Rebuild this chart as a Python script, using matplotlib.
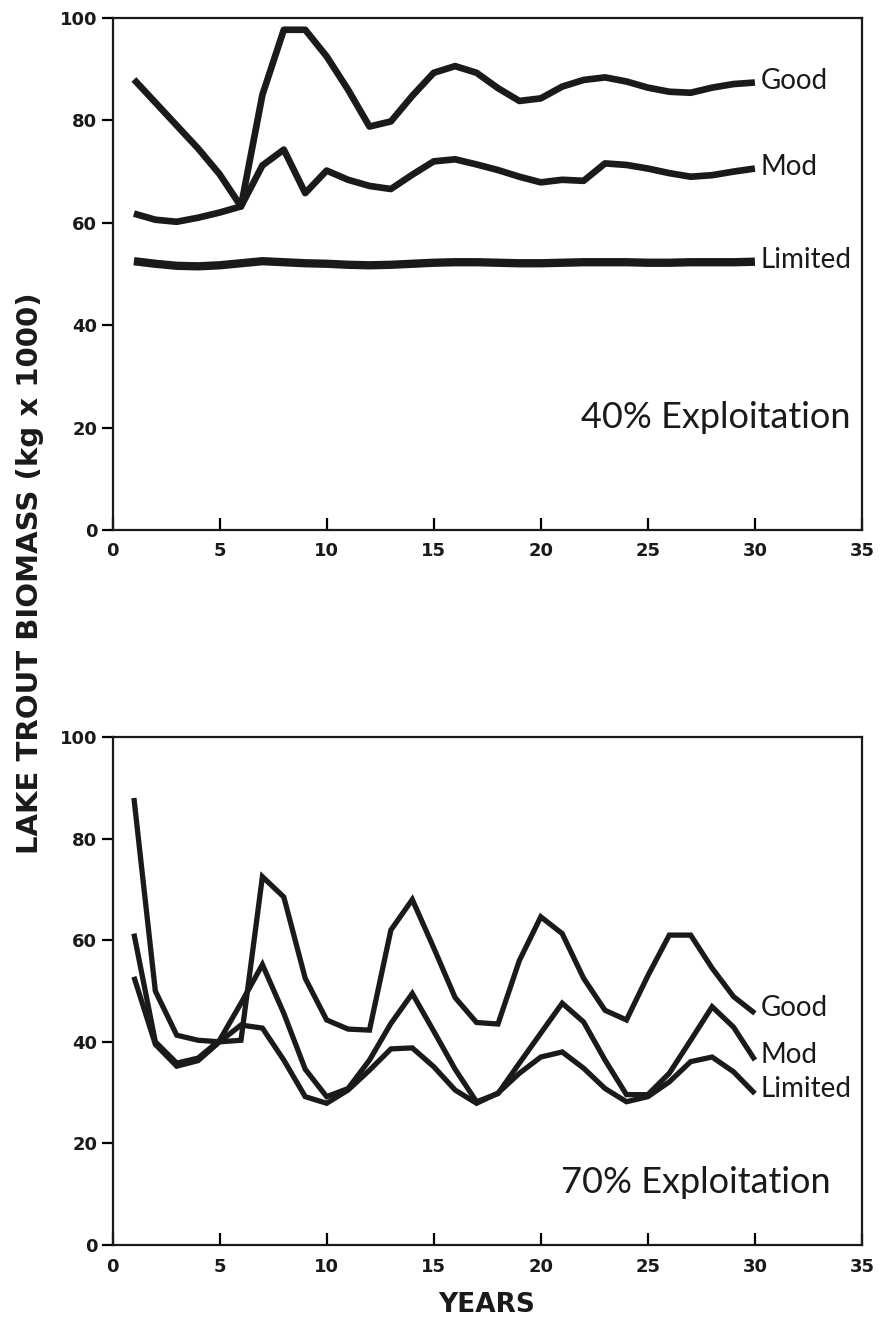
import matplotlib
matplotlib.use("Agg")
import matplotlib.pyplot as plt

years = list(range(1, 31))

good_40 = [88, 83.5, 79, 74.5, 69.5, 63.2, 85, 97.7, 97.7, 92.5, 86, 78.8, 79.8, 84.8, 89.3,
           90.6, 89.3, 86.3, 83.8, 84.3, 86.6, 87.9, 88.4, 87.6, 86.4, 85.6, 85.4, 86.4, 87.1, 87.4]
mod_40 = [61.8, 60.6, 60.2, 61.0, 62.0, 63.2, 71.2, 74.3, 65.8, 70.2, 68.4, 67.2, 66.6, 69.4, 72.0,
          72.4, 71.4, 70.3, 69.0, 67.9, 68.4, 68.2, 71.6, 71.3, 70.6, 69.7, 69.0, 69.3, 70.0, 70.6]
limited_40 = [52.5, 52.0, 51.6, 51.5, 51.7, 52.1, 52.5, 52.3, 52.1, 52.0, 51.8, 51.7, 51.8, 52.0, 52.2,
              52.3, 52.3, 52.2, 52.1, 52.1, 52.2, 52.3, 52.3, 52.3, 52.2, 52.2, 52.3, 52.3, 52.3, 52.4]

good_70 = [88, 50, 41.3, 40.3, 40, 40.3, 72.5, 68.5, 52.5, 44.3, 42.5, 42.3, 62, 68, 58.5,
           48.7, 43.8, 43.5, 56, 64.6, 61.3, 52.5, 46.2, 44.3, 53, 61, 61, 54.5, 48.9, 45.6]
mod_70 = [61.3, 40, 35.8, 36.8, 40.3, 47.6, 55.2, 45.6, 34.6, 29.2, 30.8, 36.4, 43.6, 49.5, 42.1,
          34.6, 28.2, 29.8, 35.8, 41.7, 47.6, 43.9, 36.4, 29.6, 29.6, 33.8, 40.3, 46.9, 42.9, 36.4]
limited_70 = [52.8, 39.5, 35.2, 36.3, 40, 43.3, 42.7, 36.4, 29.2, 27.9, 30.5, 34.4, 38.6, 38.8, 35.1,
              30.5, 27.9, 29.9, 33.8, 37, 38, 34.8, 30.8, 28.2, 29.2, 32.1, 36.1, 37, 34.1, 29.8]

series_names = ["Good", "Mod", "Limited"]
panel_titles = ["40% Exploitation", "70% Exploitation"]
x_ticks = [0, 5, 10, 15, 20, 25, 30, 35]
y_ticks = [0, 20, 40, 60, 80, 100]

W, H = 882, 1327
fig = plt.figure(figsize=(W / 100, H / 100), dpi=100)

def axes_rect(left_px, top_px, right_px, bottom_px):
    return [left_px / W, 1 - bottom_px / H, (right_px - left_px) / W, (bottom_px - top_px) / H]

ax1 = fig.add_axes(axes_rect(112.5, 18, 862, 530))
ax2 = fig.add_axes(axes_rect(112.5, 737, 862, 1245))

label_font = ["Lato", "DejaVu Sans"]
tick_font = ["DejaVu Sans"]

def style(ax):
    ax.set_xlim(0, 35)
    ax.set_ylim(0, 100)
    ax.set_xticks(x_ticks)
    ax.set_yticks(y_ticks)
    for s in ax.spines.values():
        s.set_linewidth(1.6)
        s.set_color("#1a1a1a")
    ax.tick_params(axis="x", direction="in", length=9, width=1.6, pad=9, labelsize=13)
    ax.tick_params(axis="y", direction="out", length=8, width=1.6, pad=3, labelsize=13)
    for lab in ax.get_xticklabels() + ax.get_yticklabels():
        lab.set_family(tick_font)
        lab.set_fontweight("bold")
        lab.set_color("#1a1a1a")

# top panel
data_top = [good_40, mod_40, limited_40]
lws_top = [4.8, 4.8, 6.0]
for vals, lw in zip(data_top, lws_top):
    ax1.plot(years, vals, color="#1a1a1a", lw=lw, solid_joinstyle="round", solid_capstyle="butt")
for name, vals in zip(series_names, data_top):
    ax1.text(30.25, vals[-1] + 0.3, name, ha="left", va="center", fontsize=20,
             family=label_font, color="#1a1a1a")
ax1.text(34.45, 22.0, panel_titles[0], ha="right", va="center", fontsize=26,
         family=label_font, color="#1a1a1a")
style(ax1)

# bottom panel
data_bot = [good_70, mod_70, limited_70]
for vals in data_bot:
    ax2.plot(years, vals, color="#1a1a1a", lw=3.8, solid_joinstyle="miter", solid_capstyle="butt")
for name, vals in zip(series_names, data_bot):
    ax2.text(30.25, vals[-1] + 1.0, name, ha="left", va="center", fontsize=20,
             family=label_font, color="#1a1a1a")
ax2.text(33.55, 12.4, panel_titles[1], ha="right", va="center", fontsize=26,
         family=label_font, color="#1a1a1a")
style(ax2)

fig.text(30 / W, 1 - 573 / H, "LAKE TROUT BIOMASS (kg x 1000)", rotation=90,
         ha="center", va="center", fontsize=21, fontweight="bold",
         family="DejaVu Sans", color="#1a1a1a")
fig.text(487 / W, 1 - 1305 / H, "YEARS", ha="center", va="center", fontsize=19,
         fontweight="bold", family="DejaVu Sans", color="#1a1a1a")

fig.savefig("out.png", dpi=100, facecolor="white")
